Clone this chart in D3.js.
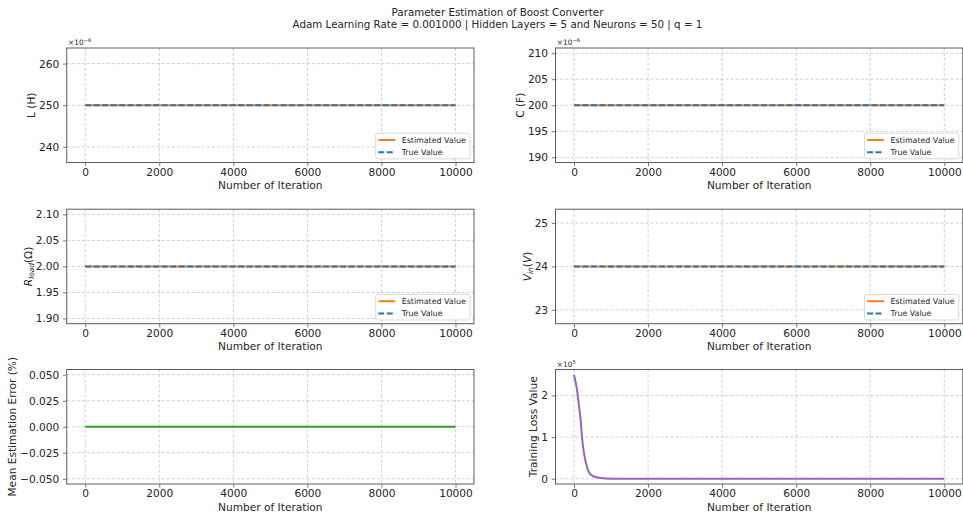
<!DOCTYPE html>
<html>
<head>
<meta charset="utf-8">
<script src="https://cdn.jsdelivr.net/npm/d3@7"></script>
<style>
  body { margin: 0; background: #fff; }
  text { font-family: "DejaVu Sans", sans-serif; fill: #262626; }
</style>
</head>
<body>
<svg id="fig" width="963" height="516"></svg>
<script>
// ---- data ----
const iterations = [0, 1000, 2000, 3000, 4000, 5000, 6000, 7000, 8000, 9000, 10000];

// inductance, capacitance in units of 1e-6
const estL = [250, 250, 250, 250, 250, 250, 250, 250, 250, 250, 250];
const trueL = [250, 250, 250, 250, 250, 250, 250, 250, 250, 250, 250];
const estC = [200, 200, 200, 200, 200, 200, 200, 200, 200, 200, 200];
const trueC = [200, 200, 200, 200, 200, 200, 200, 200, 200, 200, 200];
const estR = [2.0, 2.0, 2.0, 2.0, 2.0, 2.0, 2.0, 2.0, 2.0, 2.0, 2.0];
const trueR = [2.0, 2.0, 2.0, 2.0, 2.0, 2.0, 2.0, 2.0, 2.0, 2.0, 2.0];
const estVin = [24, 24, 24, 24, 24, 24, 24, 24, 24, 24, 24];
const trueVin = [24, 24, 24, 24, 24, 24, 24, 24, 24, 24, 24];
const meanError = [0, 0, 0, 0, 0, 0, 0, 0, 0, 0, 0];

// training loss in units of 1e5
const lossIter = [0, 35, 70, 125, 180, 215, 270, 325, 395, 505, 640, 860, 1200, 2000, 3000, 4000, 5000, 6000, 7000, 8000, 9000, 10000];
const lossVal = [2.5, 2.36, 2.2, 1.81, 1.41, 1.01, 0.61, 0.37, 0.17, 0.07, 0.03, 0.01, 0.004, 0.001, 0, 0, 0, 0, 0, 0, 0, 0];

const xTicks = [0, 2000, 4000, 6000, 8000, 10000];
const ticksL = [240, 250, 260];
const ticksC = [190, 195, 200, 205, 210];
const ticksR = [1.90, 1.95, 2.00, 2.05, 2.10];
const ticksVin = [23, 24, 25];
const ticksErr = [-0.050, -0.025, 0.000, 0.025, 0.050];
const ticksLoss = [0, 1, 2];

const titleLines = [
  "Parameter Estimation of Boost Converter",
  "Adam Learning Rate = 0.001000 | Hidden Layers = 5 and Neurons = 50 | q = 1"
];
const xLabel = "Number of Iteration";
const legendLabels = ["Estimated Value", "True Value"];

// ---- style ----
const C_EST = "#ff7f0e", C_TRUE = "#1f77b4", C_ERR = "#2ca02c", C_LOSS = "#9467bd";
const FS = 10.6, LEG_FS = 7.9;
const colLeft = [66.7, 555.5], panelW = 407.3;
const rowTop = [48, 209.2, 369.5], panelH = 114.5;

const svg = d3.select("#fig");
svg.append("rect").attr("width", 963).attr("height", 516).attr("fill", "#fff");

// figure title
titleLines.forEach((t, i) => {
  svg.append("text").attr("x", 497.5).attr("y", 16 + i * 12.2)
    .attr("text-anchor", "middle").attr("font-size", 10.3).text(t);
});

// y-limits the way matplotlib autoscales (flat data expanded by 5%, then 5% margins)
function autoLimits(arrays) {
  const all = arrays.flat();
  let lo = d3.min(all), hi = d3.max(all);
  if (hi - lo < 1e-12) {
    if (hi === 0) { lo = -0.05; hi = 0.05; }
    else { lo = lo - 0.05 * Math.abs(lo); hi = hi + 0.05 * Math.abs(hi); }
  }
  const m = 0.05 * (hi - lo);
  return [lo - m, hi + m];
}

const panels = [
  { col: 0, row: 0, series: [estL, trueL], kind: "pair", ticks: ticksL, fmt: d3.format(".0f"), exp: "−6",
    ylabel: [{ t: "L (H)" }] },
  { col: 1, row: 0, series: [estC, trueC], kind: "pair", ticks: ticksC, fmt: d3.format(".0f"), exp: "−6",
    ylabel: [{ t: "C (F)" }] },
  { col: 0, row: 1, series: [estR, trueR], kind: "pair", ticks: ticksR, fmt: d3.format(".2f"),
    ylabel: [{ t: "R", it: true }, { t: "load", it: true, sub: true }, { t: "(Ω)" }] },
  { col: 1, row: 1, series: [estVin, trueVin], kind: "pair", ticks: ticksVin, fmt: d3.format(".0f"),
    ylabel: [{ t: "V", it: true }, { t: "in", it: true, sub: true }, { t: "(" }, { t: "V", it: true }, { t: ")" }] },
  { col: 0, row: 2, series: [meanError], kind: "err", ticks: ticksErr, fmt: d3.format(".3f"),
    ylabel: [{ t: "Mean Estimation Error (%)" }] },
  { col: 1, row: 2, series: [lossVal], kind: "loss", ticks: ticksLoss, fmt: d3.format(".0f"), exp: "5",
    ylabel: [{ t: "Training Loss Value" }] }
];

panels.forEach(p => {
  const left = colLeft[p.col], top = rowTop[p.row];
  const g = svg.append("g").attr("transform", `translate(${left},${top})`);

  const x = d3.scaleLinear().domain([-500, 10500]).range([0, panelW]);
  const y = d3.scaleLinear().domain(autoLimits(p.series)).range([panelH, 0]);

  // grid
  const grid = g.append("g").attr("stroke", "#c4c4c4").attr("stroke-width", 0.8)
    .attr("stroke-dasharray", "3,2");
  xTicks.forEach(v => grid.append("line").attr("x1", x(v)).attr("x2", x(v)).attr("y1", 0).attr("y2", panelH));
  p.ticks.forEach(v => grid.append("line").attr("x1", 0).attr("x2", panelW).attr("y1", y(v)).attr("y2", y(v)));

  // axes
  const xAxis = g.append("g").attr("transform", `translate(0,${panelH})`)
    .call(d3.axisBottom(x).tickValues(xTicks).tickFormat(d3.format("d")).tickSize(3.7).tickPadding(2.2));
  const yAxis = g.append("g")
    .call(d3.axisLeft(y).tickValues(p.ticks).tickFormat(p.fmt).tickSize(3.7).tickPadding(3.7));
  [xAxis, yAxis].forEach(a => {
    a.select(".domain").remove();
    a.selectAll(".tick line").attr("stroke", "#555").attr("stroke-width", 0.8);
    a.selectAll(".tick text").attr("font-size", FS).attr("font-family", "DejaVu Sans").attr("fill", "#262626");
  });
  xAxis.selectAll(".tick text").attr("dy", "0.71em");

  // data lines
  const line = arr => d3.line().x((d, i) => x(iterations[i])).y(d => y(d))(arr);
  if (p.kind === "pair") {
    g.append("path").attr("d", line(p.series[0])).attr("fill", "none")
      .attr("stroke", C_EST).attr("stroke-width", 2);
    g.append("path").attr("d", line(p.series[1])).attr("fill", "none")
      .attr("stroke", C_TRUE).attr("stroke-width", 2).attr("stroke-dasharray", "5.9,2.6");
  } else if (p.kind === "err") {
    g.append("path").attr("d", line(p.series[0])).attr("fill", "none")
      .attr("stroke", C_ERR).attr("stroke-width", 2);
  } else {
    const lossLine = d3.line().curve(d3.curveMonotoneX)
      .x((d, i) => x(lossIter[i])).y(d => y(d));
    g.append("path").attr("d", lossLine(p.series[0])).attr("fill", "none")
      .attr("stroke", C_LOSS).attr("stroke-width", 2);
  }

  // frame
  g.append("rect").attr("width", panelW).attr("height", panelH).attr("fill", "none")
    .attr("stroke", "#5c5c5c").attr("stroke-width", 1);

  // x label
  g.append("text").attr("x", panelW / 2).attr("y", panelH + 26.5)
    .attr("text-anchor", "middle").attr("font-size", FS).text(xLabel);

  // y label placed left of the widest tick label
  let minX = 0;
  yAxis.selectAll(".tick text").each(function () {
    const b = this.getBBox();
    const tx = +d3.select(this.parentNode).attr("transform").match(/translate\(([-\d.]+)/)[1];
    minX = Math.min(minX, b.x + tx);
  });
  const yl = g.append("text").attr("font-size", FS).attr("text-anchor", "middle")
    .attr("transform", `translate(${minX - 4},${panelH / 2}) rotate(-90)`);
  p.ylabel.forEach((part, i) => {
    const ts = yl.append("tspan").text(part.t);
    if (part.it) ts.attr("font-style", "italic");
    if (part.sub) ts.attr("font-size", FS * 0.7).attr("dy", 2.4);
    else if (i > 0 && p.ylabel[i - 1].sub) ts.attr("dy", -2.4);
  });

  // scale exponent above the axis
  if (p.exp) {
    const ot = g.append("text").attr("x", 1.3).attr("y", -3).attr("font-size", 7.4);
    ot.append("tspan").text("×10");
    ot.append("tspan").attr("font-size", 5.2).attr("dy", -3).text(p.exp);
  }

  // legend
  if (p.kind === "pair") {
    const lw = 94.3, lh = 25.6;
    const lg = g.append("g").attr("transform", `translate(${panelW - 4 - lw},${panelH - 3.7 - lh})`);
    lg.append("rect").attr("width", lw).attr("height", lh).attr("rx", 2)
      .attr("fill", "#fff").attr("fill-opacity", 0.85).attr("stroke", "#d0d0d0").attr("stroke-width", 0.8);
    const rows = [
      { c: C_EST, dash: null, t: legendLabels[0], y: 6.8 },
      { c: C_TRUE, dash: "5.9,2.6", t: legendLabels[1], y: 19.0 }
    ];
    rows.forEach(r => {
      const ln = lg.append("line").attr("x1", 2.6).attr("x2", 19.6).attr("y1", r.y).attr("y2", r.y)
        .attr("stroke", r.c).attr("stroke-width", 2);
      if (r.dash) ln.attr("stroke-dasharray", r.dash);
      lg.append("text").attr("x", 26).attr("y", r.y + 2.9).attr("font-size", LEG_FS).text(r.t);
    });
  }
});
</script>
</body>
</html>
